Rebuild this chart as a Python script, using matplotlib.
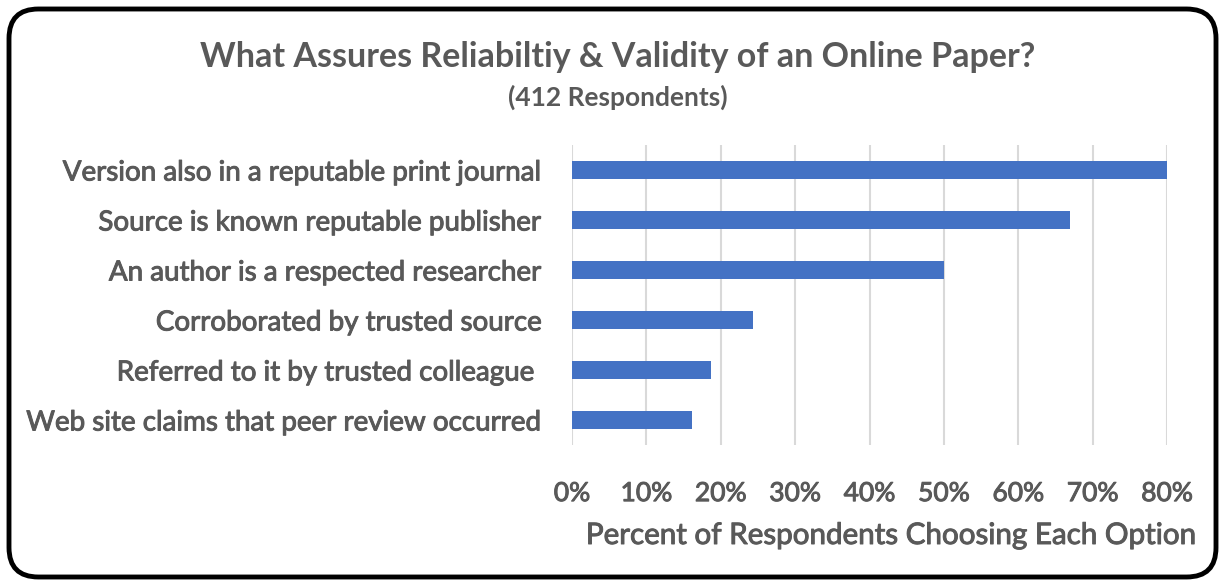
import matplotlib
matplotlib.use("Agg")
import matplotlib.pyplot as plt
import matplotlib.patheffects as pe
from matplotlib.patches import FancyBboxPatch
from matplotlib.ticker import FuncFormatter

categories = [
    "Version also in a reputable print journal",
    "Source is known reputable publisher",
    "An author is a respected researcher",
    "Corroborated by trusted source",
    "Referred to it by trusted colleague ",
    "Web site claims that peer review occurred",
]
values = [80.1, 67.0, 50.0, 24.4, 18.7, 16.1]
xticks = [0, 10, 20, 30, 40, 50, 60, 70, 80]

title = "What Assures Reliabiltiy & Validity of an Online Paper?"
subtitle = "(412 Respondents)"
xlabel = "Percent of Respondents Choosing Each Option"

W, H = 1225, 586
fig = plt.figure(figsize=(W / 100, H / 100), dpi=100)
fig.patch.set_facecolor("white")

text_color = "#595959"
font = "Lato"
heavy = [pe.withStroke(linewidth=0.7, foreground=text_color)]

left, right, top, bottom = 572, 1167, 145, 445
ax = fig.add_axes([left / W, 1 - bottom / H, (right - left) / W, (bottom - top) / H])

y = list(range(len(categories)))
ax.barh(y, values, height=0.35, color="#4472C4", zorder=3)
ax.set_ylim(len(categories) - 0.5, -0.5)
ax.set_xlim(0, 80)
ax.set_xticks(xticks)
ax.xaxis.set_major_formatter(FuncFormatter(lambda v, p: f"{int(v)}%"))
ax.grid(axis="x", color="#D9D9D9", linewidth=1.5, zorder=0)
for s in ax.spines.values():
    s.set_visible(False)
ax.tick_params(axis="both", length=0)
ax.set_yticks(y)
ax.set_yticklabels(categories, fontsize=20, color=text_color, family=font)
for lab in ax.get_yticklabels():
    lab.set_path_effects(heavy)
ax.tick_params(axis="y", pad=21)
ax.tick_params(axis="x", pad=26)
for lab in ax.get_xticklabels():
    lab.set_fontsize(19)
    lab.set_color(text_color)
    lab.set_family(font)
    lab.set_path_effects(heavy)

fig.text(1198 / W, 1 - 535 / H, xlabel, ha="right", va="center", fontsize=21.3,
         color=text_color, family=font, path_effects=heavy)

fig.text(618 / W, 1 - 57 / H, title, ha="center", va="center", fontsize=24.5,
         fontweight="bold", color=text_color, family=font)
fig.text(618 / W, 1 - 97 / H, subtitle, ha="center", va="center", fontsize=19,
         fontweight="bold", color=text_color, family=font)

border = FancyBboxPatch((9 / W, 9 / H), (W - 18) / W, (H - 18) / H,
                        boxstyle="round,pad=0,rounding_size=0.024",
                        transform=fig.transFigure, facecolor="none",
                        edgecolor="black", linewidth=3.5, mutation_aspect=W / H)
fig.patches.append(border)

fig.savefig("out.png", dpi=100)
